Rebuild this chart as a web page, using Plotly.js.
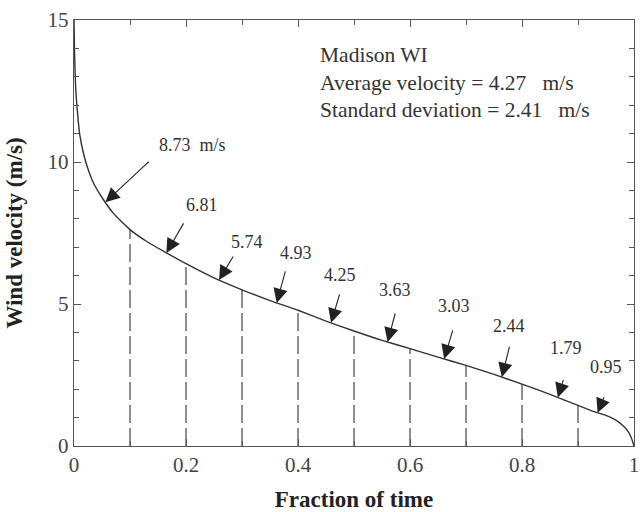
<!DOCTYPE html>
<html>
<head>
<meta charset="utf-8">
<script src="https://cdn.plot.ly/plotly-3.0.1.min.js"></script>
<style>html,body{margin:0;padding:0;background:#fff;}#chart{width:640px;height:512px;}</style>
</head>
<body>
<div id="chart"></div>
<script>
// Wind velocity duration curve, Madison WI
const fractionOfTime = [0, 0.001, 0.003, 0.006, 0.01, 0.017, 0.025, 0.035, 0.05, 0.07, 0.1, 0.13, 0.165, 0.2, 0.25, 0.3, 0.35, 0.4, 0.45, 0.5, 0.55, 0.6, 0.65, 0.7, 0.75, 0.8, 0.85, 0.9, 0.93, 0.95, 0.967, 0.98, 0.99, 0.996, 1.0];
const windVelocity   = [15, 13.8, 12.6, 11.8, 11.0, 10.3, 9.75, 9.25, 8.75, 8.2, 7.62, 7.2, 6.8, 6.42, 5.92, 5.5, 5.12, 4.78, 4.4, 4.05, 3.72, 3.43, 3.13, 2.84, 2.52, 2.18, 1.82, 1.43, 1.2, 1.08, 0.92, 0.72, 0.5, 0.25, 0];

// Bin boundaries (dashed lines)
const binEdges = [0.1, 0.2, 0.3, 0.4, 0.5, 0.6, 0.7, 0.8, 0.9];

// Bin average velocities and where each arrow points
const binLabels = ["8.73  m/s", "6.81", "5.74", "4.93", "4.25", "3.63", "3.03", "2.44", "1.79", "0.95"];
const arrowFractions = [0.056, 0.165, 0.259, 0.362, 0.459, 0.560, 0.661, 0.764, 0.864, 0.935];

const infoLines = ["Madison WI", "Average velocity = 4.27   m/s", "Standard deviation = 2.41   m/s"];

function interp(x) {
  for (let i = 1; i < fractionOfTime.length; i++) {
    if (x <= fractionOfTime[i]) {
      const x0 = fractionOfTime[i-1], x1 = fractionOfTime[i];
      const y0 = windVelocity[i-1], y1 = windVelocity[i];
      return y0 + (y1 - y0) * (x - x0) / (x1 - x0);
    }
  }
  return windVelocity[windVelocity.length - 1];
}

const dashX = [], dashY = [];
binEdges.forEach(e => { dashX.push(e, e, null); dashY.push(0, interp(e), null); });

const textColor = '#333';
const serif = 'Liberation Serif, Times New Roman, serif';

const traces = [
  { x: dashX, y: dashY, type: 'scatter', mode: 'lines',
    line: { color: '#444', width: 1.2, dash: '18px,5px' }, hoverinfo: 'skip', showlegend: false },
  { x: fractionOfTime, y: windVelocity, type: 'scatter', mode: 'lines',
    line: { color: '#333', width: 1.4, shape: 'spline', smoothing: 0.5 }, showlegend: false }
];

// Arrow tail offsets (pixels) and label placement (data coords)
const arrowAx = [45, 18, 15, 9, 9, 8, 9, 8, 6, 7];
const arrowAy = [-42, -31, -25, -33, -30, -30, -30, -32, -19, -17];
const labelPos = [[0.148, 10.6, 'left'], [0.229, 8.49, 'center'], [0.309, 7.18, 'center'], [0.396, 6.80, 'center'],
                  [0.475, 6.02, 'center'], [0.574, 5.49, 'center'], [0.679, 4.93, 'center'], [0.776, 4.23, 'center'],
                  [0.879, 3.45, 'center'], [0.950, 2.78, 'center']];

const annotations = [];
binLabels.forEach((lab, i) => {
  const xf = arrowFractions[i];
  annotations.push({ x: xf, y: interp(xf), xref: 'x', yref: 'y', text: '', showarrow: true,
    ax: arrowAx[i], ay: arrowAy[i], arrowhead: 2, arrowsize: 2.6, arrowwidth: 1.1, arrowcolor: '#222', standoff: 0 });
  annotations.push({ x: labelPos[i][0], y: labelPos[i][1], xref: 'x', yref: 'y', text: lab, showarrow: false,
    xanchor: labelPos[i][2], yanchor: 'middle', font: { family: serif, size: 18, color: textColor } });
});

const infoY = [13.77, 12.78, 11.83];
infoLines.forEach((t, i) => {
  annotations.push({ x: 0.436, y: infoY[i], xref: 'x', yref: 'y', text: t, showarrow: false,
    xanchor: 'left', yanchor: 'middle', font: { family: serif, size: 21.5, color: textColor } });
});

const layout = {
  width: 640, height: 512,
  margin: { l: 73.5, r: 6, t: 20, b: 66 },
  paper_bgcolor: '#fff', plot_bgcolor: '#fff',
  showlegend: false,
  xaxis: {
    range: [0, 1], tickvals: [0, 0.2, 0.4, 0.6, 0.8, 1], ticktext: ['0', '0.2', '0.4', '0.6', '0.8', '1'],
    ticks: 'inside', ticklen: 7, tickcolor: '#555', showline: true, linecolor: '#555', linewidth: 1.2,
    mirror: 'allticks', showgrid: false, zeroline: false, ticklabeloverflow: 'allow',
    minor: { dtick: 0.1, ticks: 'inside', ticklen: 5, tickcolor: '#555', showgrid: false },
    tickfont: { family: serif, size: 21, color: '#444' },
    title: { text: 'Fraction of time', font: { family: serif, size: 23, color: '#222', weight: 'bold' }, standoff: 14 }
  },
  yaxis: {
    range: [0, 15], tickvals: [0, 5, 10, 15],
    ticks: 'inside', ticklen: 7, tickcolor: '#555', showline: true, linecolor: '#555', linewidth: 1.2,
    mirror: 'allticks', showgrid: false, zeroline: false,
    minor: { dtick: 1, ticks: 'inside', ticklen: 5, tickcolor: '#555', showgrid: false },
    tickfont: { family: serif, size: 21, color: '#444' },
    title: { text: 'Wind velocity (m/s)', font: { family: serif, size: 23, color: '#222', weight: 'bold' }, standoff: 18 }
  },
  annotations: annotations
};

Plotly.newPlot('chart', traces, layout, { staticPlot: true, displayModeBar: false });
</script>
</body>
</html>
